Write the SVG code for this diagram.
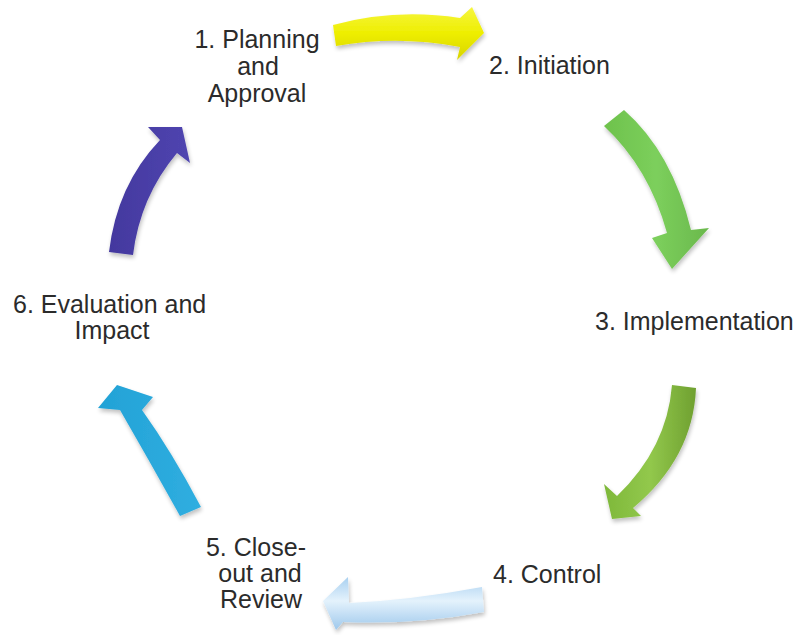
<svg xmlns="http://www.w3.org/2000/svg" width="803" height="635" viewBox="0 0 803 635">
  <style>
    .label { font-family: "Liberation Sans", Arial, sans-serif; font-size: 25px; fill: #2b2b2b; }
    .mid { text-anchor: middle; }
    .arrow { filter: url(#shade); }
  </style>
  <defs>
    <filter id="shade" x="-20%" y="-20%" width="140%" height="140%">
      <feGaussianBlur in="SourceAlpha" stdDeviation="2"/>
      <feOffset dx="1" dy="3" result="off"/>
      <feComponentTransfer><feFuncA type="linear" slope="0.25"/></feComponentTransfer>
      <feMerge><feMergeNode/><feMergeNode in="SourceGraphic"/></feMerge>
    </filter>
    <linearGradient id="gYellow" x1="0" y1="0" x2="0" y2="1">
      <stop offset="0" stop-color="#f6f640"/>
      <stop offset="0.5" stop-color="#eeee00"/>
      <stop offset="1" stop-color="#d8d400"/>
    </linearGradient>
    <linearGradient id="gGreen1" x1="0" y1="0" x2="1" y2="0">
      <stop offset="0" stop-color="#6ec24c"/>
      <stop offset="0.5" stop-color="#7ccf5c"/>
      <stop offset="1" stop-color="#6ab84c"/>
    </linearGradient>
    <linearGradient id="gGreen2" x1="0" y1="0" x2="1" y2="0">
      <stop offset="0" stop-color="#7eb83a"/>
      <stop offset="0.5" stop-color="#92c84c"/>
      <stop offset="1" stop-color="#6fa030"/>
    </linearGradient>
    <linearGradient id="gLight" x1="0" y1="0" x2="0" y2="1">
      <stop offset="0" stop-color="#a8d0f0"/>
      <stop offset="0.45" stop-color="#e4f2fc"/>
      <stop offset="1" stop-color="#9ec8ec"/>
    </linearGradient>
    <linearGradient id="gCyan" x1="0" y1="0" x2="1" y2="0">
      <stop offset="0" stop-color="#22a2d6"/>
      <stop offset="1" stop-color="#30aee0"/>
    </linearGradient>
    <linearGradient id="gPurple" x1="0" y1="0" x2="1" y2="0">
      <stop offset="0" stop-color="#43389e"/>
      <stop offset="1" stop-color="#5045b0"/>
    </linearGradient>
  </defs>

  <g id="connectors">
    <!-- 1 to 2 -->
    <path class="arrow" fill="url(#gYellow)" d="M333,25 Q395,8 460,18 L472,7 L484,33 L457,60 L460,47 Q398,35 336,46 Z"/>
    <!-- 2 to 3 -->
    <path class="arrow" fill="url(#gGreen1)" d="M604,126 L624,110 Q672,152 691,230 L709,228 L672,269 L652,238 L667,233 Q649,168 604,126 Z"/>
    <!-- 3 to 4 -->
    <path class="arrow" fill="url(#gGreen2)" d="M672,385 L696,388 Q693,458 633,508 L641,516 L612,519 L604,484 L617,496 Q667,448 672,385 Z"/>
    <!-- 4 to 5 -->
    <path class="arrow" fill="url(#gLight)" d="M482,587 Q412,600 349,603 L348,577 L323,601 L336,630 L343,622 Q415,625 484,612 Z"/>
    <!-- 5 to 6 -->
    <path class="arrow" fill="url(#gCyan)" d="M201,507 Q172,452 142,410 L153,397 L117,385 L98,408 L120,410 Q150,462 180,516 Z"/>
    <!-- 6 to 1 -->
    <path class="arrow" fill="url(#gPurple)" d="M109,252 Q117,185 160,140 L148,127 L182,127 L190,163 L177,153 Q140,197 133,255 Z"/>
  </g>

  <g id="node-planning">
    <text class="label mid" x="257" y="48">1. Planning</text>
    <text class="label mid" x="258" y="75">and</text>
    <text class="label mid" x="257" y="102">Approval</text>
  </g>
  <g id="node-initiation">
    <text class="label" x="489" y="74">2. Initiation</text>
  </g>
  <g id="node-implementation">
    <text class="label" x="595" y="330">3. Implementation</text>
  </g>
  <g id="node-control">
    <text class="label" x="493" y="583">4. Control</text>
  </g>
  <g id="node-closeout">
    <text class="label mid" x="256" y="556">5. Close-</text>
    <text class="label mid" x="260" y="582">out and</text>
    <text class="label mid" x="261" y="608">Review</text>
  </g>
  <g id="node-evaluation">
    <text class="label" x="13" y="313">6. Evaluation and</text>
    <text class="label mid" x="112" y="339">Impact</text>
  </g>
</svg>
